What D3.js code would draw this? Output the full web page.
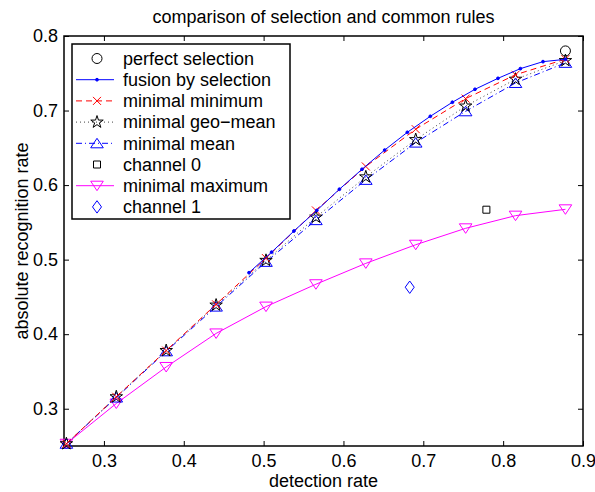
<!DOCTYPE html>
<html>
<head>
<meta charset="utf-8">
<script src="https://cdn.jsdelivr.net/npm/d3@7"></script>
<style>
body{margin:0;background:#fff;}
.chart{width:595px;height:492px;}
text{font-family:"Liberation Sans",Arial,sans-serif;fill:#000;}
</style>
</head>
<body>
<div class="chart"></div>
<script>
//Data
const detectionRate = [0.253, 0.3155, 0.378, 0.4405, 0.503, 0.5655, 0.628, 0.6905, 0.753, 0.8155, 0.878];
const minimalMinimum = [0.253, 0.316, 0.378, 0.440, 0.502, 0.566, 0.625, 0.675, 0.716, 0.748, 0.769];
const minimalGeoMean = [0.253, 0.316, 0.378, 0.439, 0.499, 0.557, 0.611, 0.661, 0.706, 0.742, 0.767];
const minimalMean = [0.253, 0.315, 0.377, 0.437, 0.497, 0.553, 0.607, 0.657, 0.699, 0.737, 0.764];
const minimalMaximum = [0.253, 0.307, 0.356, 0.401, 0.437, 0.467, 0.495, 0.520, 0.542, 0.559, 0.5675];

const fusionX = [0.4817, 0.510, 0.538, 0.5666, 0.5949, 0.6232, 0.6516, 0.680, 0.7088, 0.7364, 0.7647, 0.7935, 0.8216, 0.8499, 0.878];
const fusionY = [0.4825, 0.510, 0.5384, 0.566, 0.5944, 0.6212, 0.647, 0.6708, 0.6923, 0.7111, 0.7285, 0.7432, 0.7562, 0.7656, 0.7687];

const perfectSelection = [0.878, 0.780];
const channel0 = [0.779, 0.567];
const channel1 = [0.683, 0.463];

const xTicks = [0.3, 0.4, 0.5, 0.6, 0.7, 0.8, 0.9];
const yTicks = [0.3, 0.4, 0.5, 0.6, 0.7, 0.8];

//Prep work
const W = 595, H = 492;
const margin = {t:36, r:12, b:46, l:64};
const w = W - margin.l - margin.r;
const h = H - margin.t - margin.b;
const FONT = '18px';

const svg = d3.select('.chart')
	.append('svg')
		.attr('width', W)
		.attr('height', H);

const plot = svg.append('g')
	.attr('transform', `translate(${margin.l}, ${margin.t})`);

const x = d3.scaleLinear().domain([0.25, 0.9]).range([0, w]);
const y = d3.scaleLinear().domain([0.25, 0.8]).range([h, 0]);

//Axes, ticks pointing inward on all four sides
function styleAxis(g){
	g.select('.domain').remove();
	g.selectAll('line').attr('stroke', '#000').attr('stroke-width', 1);
	g.selectAll('text').style('font-size', FONT).style('font-family', '"Liberation Sans",Arial,sans-serif');
}
plot.append('g').attr('transform', `translate(0,${h})`)
	.call(d3.axisBottom(x).tickValues(xTicks).tickSize(-5).tickPadding(8).tickFormat(d3.format('.1f')))
	.call(styleAxis);
plot.append('g')
	.call(d3.axisTop(x).tickValues(xTicks).tickSize(-5).tickFormat(''))
	.call(styleAxis);
plot.append('g')
	.call(d3.axisLeft(y).tickValues(yTicks).tickSize(-5).tickPadding(6).tickFormat(d3.format('.1f')))
	.call(styleAxis);
plot.append('g').attr('transform', `translate(${w},0)`)
	.call(d3.axisRight(y).tickValues(yTicks).tickSize(-5).tickFormat(''))
	.call(styleAxis);

plot.append('rect')
	.attr('width', w).attr('height', h)
	.attr('fill', 'none').attr('stroke', '#000').attr('stroke-width', 1.5);

//Titles
svg.append('text').attr('x', margin.l + w/2).attr('y', 23)
	.attr('text-anchor', 'middle').style('font-size', FONT)
	.text('comparison of selection and common rules');
svg.append('text').attr('x', margin.l + w/2).attr('y', 487)
	.attr('text-anchor', 'middle').style('font-size', FONT)
	.text('detection rate');
svg.append('text')
	.attr('transform', `translate(28,${margin.t + h/2}) rotate(-90)`)
	.attr('text-anchor', 'middle').style('font-size', FONT)
	.text('absolute recognition rate');

//Marker shapes
const markers = {
	circle: 'M5,0A5,5 0 1,1 -5,0A5,5 0 1,1 5,0Z',
	dot: 'M1.4,0A1.4,1.4 0 1,1 -1.4,0A1.4,1.4 0 1,1 1.4,0Z',
	cross: 'M-4,-4L4,4M4,-4L-4,4',
	star: d3.symbol(d3.symbolStar, 48)(),
	triUp: 'M0,-5L6.3,4.5L-6.3,4.5Z',
	triDown: 'M0,5L6.3,-4.5L-6.3,-4.5Z',
	square: 'M-3.5,-3.5H3.5V3.5H-3.5Z',
	diamond: 'M0,-6.2L4.5,0L0,6.2L-4.5,0Z'
};

const series = [
	{name:'perfect selection', xs:[perfectSelection[0]], ys:[perfectSelection[1]], color:'#000', dash:null, line:false, marker:'circle', fill:'none'},
	{name:'fusion by selection', xs:fusionX, ys:fusionY, color:'#0000ff', dash:null, line:true, marker:'dot', fill:'#0000ff'},
	{name:'minimal minimum', xs:detectionRate, ys:minimalMinimum, color:'#ff0000', dash:'6,4', line:true, marker:'cross', fill:'none'},
	{name:'minimal geo\u2212mean', xs:detectionRate, ys:minimalGeoMean, color:'#000', dash:'1,3', line:true, marker:'star', fill:'none', lineColor:'#444'},
	{name:'minimal mean', xs:detectionRate, ys:minimalMean, color:'#0000ff', dash:'6,3,1,3', line:true, marker:'triUp', fill:'none'},
	{name:'channel 0', xs:[channel0[0]], ys:[channel0[1]], color:'#000', dash:null, line:false, marker:'square', fill:'none'},
	{name:'minimal maximum', xs:detectionRate, ys:minimalMaximum, color:'#ff00ff', dash:null, line:true, marker:'triDown', fill:'none'},
	{name:'channel 1', xs:[channel1[0]], ys:[channel1[1]], color:'#0000ff', dash:null, line:false, marker:'diamond', fill:'none'}
];

const line = d3.line().x(d => x(d[0])).y(d => y(d[1]));

//Draw in reverse so the first entries land on top
series.slice().reverse().forEach(function(s){
	const pts = s.xs.map((v,i) => [v, s.ys[i]]);
	if(s.line){
		plot.append('path')
			.datum(pts)
			.attr('d', line)
			.attr('fill', 'none')
			.attr('stroke', s.lineColor || s.color)
			.attr('stroke-width', 1)
			.attr('stroke-dasharray', s.dash);
	}
	plot.selectAll(null)
		.data(pts)
		.enter()
		.append('path')
		.attr('transform', d => `translate(${x(d[0])},${y(d[1])})`)
		.attr('d', markers[s.marker])
		.attr('fill', s.fill)
		.attr('stroke', s.color)
		.attr('stroke-width', 1);
});

//Legend
const legend = svg.append('g').attr('transform', 'translate(72,44)');
legend.append('rect')
	.attr('width', 218).attr('height', 175)
	.attr('fill', '#fff').attr('stroke', '#000').attr('stroke-width', 1.5);

const rows = legend.selectAll('.row')
	.data(series)
	.enter()
	.append('g')
	.attr('class', 'row')
	.attr('transform', (d,i) => `translate(0,${14.5 + i*21.2})`);

rows.filter(d => d.line)
	.append('line')
	.attr('x1', 4).attr('x2', 42)
	.attr('stroke', d => d.lineColor || d.color)
	.attr('stroke-width', 1)
	.attr('stroke-dasharray', d => d.dash);

rows.append('path')
	.attr('transform', 'translate(25,0)')
	.attr('d', d => markers[d.marker])
	.attr('fill', d => d.fill)
	.attr('stroke', d => d.color)
	.attr('stroke-width', 1);

rows.append('text')
	.attr('x', 51).attr('dy', '0.35em')
	.style('font-size', FONT)
	.text(d => d.name);
</script>
</body>
</html>
